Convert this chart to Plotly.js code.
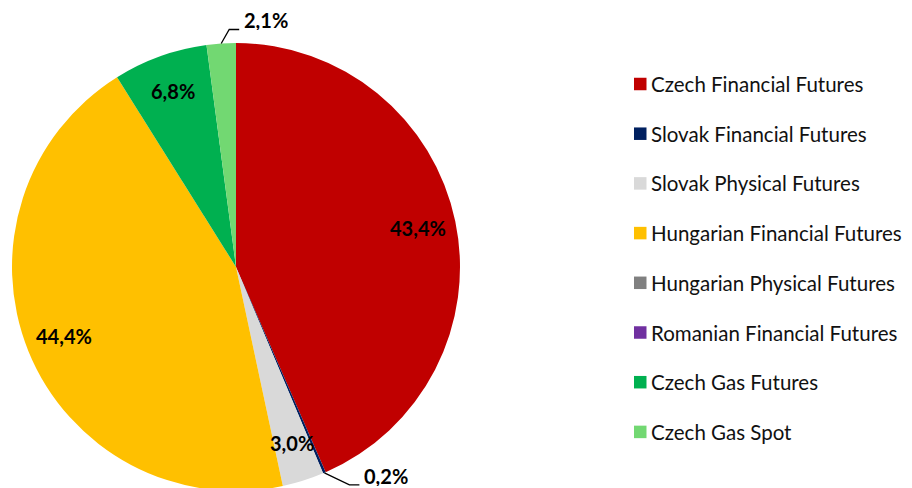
<!DOCTYPE html>
<html>
<head>
<meta charset="utf-8">
<script src="https://cdn.plot.ly/plotly-3.0.1.min.js"></script>
<style>
  html, body { margin:0; padding:0; background:#fff; overflow:hidden; }
  #wrap { width:912px; height:488px; overflow:hidden; }
</style>
</head>
<body>
<div id="wrap"><div id="chart"></div></div>
<script>
// ---- data ----
const categories = [
  "Czech Financial Futures",
  "Slovak Financial Futures",
  "Slovak Physical Futures",
  "Hungarian Financial Futures",
  "Hungarian Physical Futures",
  "Romanian Financial Futures",
  "Czech Gas Futures",
  "Czech Gas Spot"
];
const shares = [43.4, 0.2, 3.0, 44.4, 0.0, 0.0, 6.8, 2.1];
const colors = ["#C00000", "#002060", "#D9D9D9", "#FFC000", "#808080", "#7030A0", "#00B050", "#72D872"];

// ---- geometry / style ----
const W = 912, H = 494;
const CX = 236, CY = 267, R = 224;
const FONT = "Lato, 'Open Sans', sans-serif";
const labelFrac = 0.83;
const outsideThreshold = 2.5;
const leader = { up: {dx: 8, dy: -14, h: 10}, down: {dx: 25, dy: 12, h: 10} };

const px = x => x / W;
const py = y => 1 - y / H;
const fmt = v => v.toFixed(1).replace(".", ",") + "%";

const total = shares.reduce((a, b) => a + b, 0);
const annotations = [];
const shapes = [];
let cum = 0;
shares.forEach((v, i) => {
  const mid = (cum + v / 2) / total * 2 * Math.PI;
  cum += v;
  if (v <= 0) return;
  const sx = Math.sin(mid), sy = -Math.cos(mid);
  if (v >= outsideThreshold) {
    annotations.push({
      x: px(CX + labelFrac * R * sx), y: py(CY + labelFrac * R * sy - 1),
      xref: "paper", yref: "paper", showarrow: false,
      text: "<b>" + fmt(v) + "</b>",
      font: {family: FONT, size: 20, color: "#000"},
      xanchor: "center", yanchor: "middle"
    });
  } else {
    const ex = CX + R * sx, ey = CY + R * sy;
    const L = sy < 0 ? leader.up : leader.down;
    const kx = ex + L.dx, ky = ey + L.dy, hx = kx + L.h;
    shapes.push({
      type: "path", xref: "paper", yref: "paper",
      path: `M${px(ex)},${py(ey)} L${px(kx)},${py(ky)} L${px(hx)},${py(ky)}`,
      line: {color: "#000", width: 1.3}
    });
    annotations.push({
      x: px(hx + 3), y: py(ky - 9),
      xref: "paper", yref: "paper", showarrow: false,
      text: "<b>" + fmt(v) + "</b>",
      font: {family: FONT, size: 20, color: "#000"},
      height: 20, valign: "middle",
      xanchor: "left", yanchor: "middle"
    });
  }
});

// ---- custom legend ----
const legX = 634, legY0 = 84, legStep = 49.7, sq = 12.5;
categories.forEach((c, i) => {
  const yc = legY0 + i * legStep;
  shapes.push({
    type: "rect", xref: "paper", yref: "paper",
    x0: px(legX), x1: px(legX + sq), y0: py(yc - sq / 2), y1: py(yc + sq / 2),
    fillcolor: colors[i], line: {width: 0}
  });
  annotations.push({
    x: px(legX + sq + 2.5), y: py(yc),
    xref: "paper", yref: "paper", showarrow: false,
    text: c, font: {family: FONT, size: 20.5, color: "#111"},
    xanchor: "left", yanchor: "middle"
  });
});

const trace = {
  type: "pie",
  labels: categories,
  values: shares,
  marker: {colors: colors, line: {width: 0}},
  sort: false,
  direction: "clockwise",
  rotation: 0,
  textinfo: "none",
  hoverinfo: "label+percent",
  domain: {x: [px(CX - R), px(CX + R)], y: [py(CY + R), py(CY - R)]},
  showlegend: false
};

Plotly.newPlot("chart", [trace], {
  width: W, height: H,
  margin: {l: 0, r: 0, t: 0, b: 0},
  paper_bgcolor: "#fff",
  showlegend: false,
  annotations: annotations,
  shapes: shapes,
  font: {family: FONT}
}, {staticPlot: true});
</script>
</body>
</html>
